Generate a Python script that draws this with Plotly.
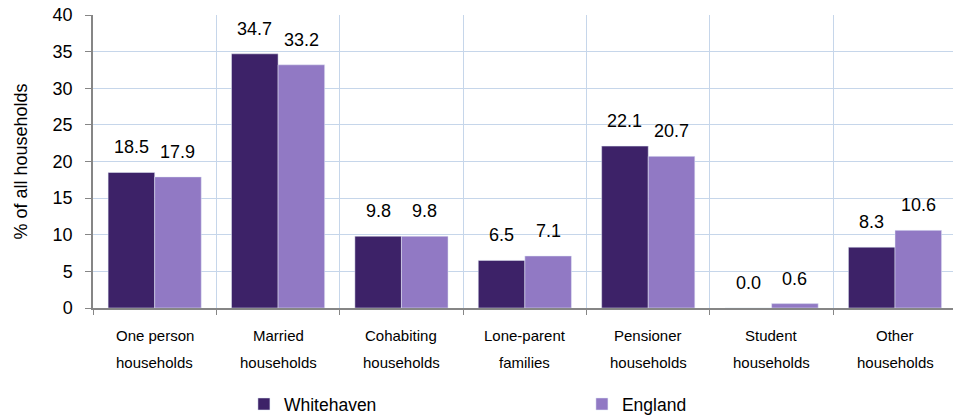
import plotly.graph_objects as go

categories = ["One person households", "Married households", "Cohabiting households",
              "Lone-parent families", "Pensioner households", "Student households",
              "Other households"]
label_line1 = ["One person", "Married", "Cohabiting", "Lone-parent", "Pensioner", "Student", "Other"]
label_line2 = ["households", "households", "households", "families", "households", "households", "households"]
whitehaven = [18.5, 34.7, 9.8, 6.5, 22.1, 0.0, 8.3]
england = [17.9, 33.2, 9.8, 7.1, 20.7, 0.6, 10.6]

dark = "#3D2268"
light = "#9179C4"
font = "Liberation Sans, Arial, sans-serif"

fig = go.Figure()
fig.add_trace(go.Bar(name="Whitehaven", x=categories, y=whitehaven, marker_color=dark))
fig.add_trace(go.Bar(name="England", x=categories, y=england, marker_color=light))

annotations = []
half_bar = 23.3
for c, a, b in zip(categories, whitehaven, england):
    annotations.append(dict(x=c, y=a, xref="x", yref="y", text=f"{a:.1f}", showarrow=False,
                            xshift=-half_bar, yshift=25, yanchor="middle",
                            font=dict(size=18, color="black", family=font)))
    annotations.append(dict(x=c, y=b, xref="x", yref="y", text=f"{b:.1f}", showarrow=False,
                            xshift=half_bar, yshift=25, yanchor="middle",
                            font=dict(size=18, color="black", family=font)))
for c, l1, l2 in zip(categories, label_line1, label_line2):
    annotations.append(dict(x=c, y=-0.095, xref="x", yref="paper", text=l1, showarrow=False,
                            font=dict(size=15, color="black", family=font), yanchor="middle"))
    annotations.append(dict(x=c, y=-0.187, xref="x", yref="paper", text=l2, showarrow=False,
                            font=dict(size=15, color="black", family=font), yanchor="middle"))

fig.update_layout(
    width=953, height=419,
    margin=dict(l=93, r=0, t=15, b=111, autoexpand=False),
    paper_bgcolor="white", plot_bgcolor="white",
    font=dict(family=font, color="black"),
    barmode="group", bargap=0.245, bargroupgap=0,
    showlegend=True,
    legend=dict(orientation="h", x=0.1755, xanchor="left", y=-0.328, yanchor="middle",
                font=dict(size=17.5), entrywidth=293, entrywidthmode="pixels",
                itemclick=False, bgcolor="rgba(0,0,0,0)"),
    annotations=annotations,
    xaxis=dict(range=[-0.5, 6.47], showticklabels=False, tickson="boundaries",
               ticks="outside", ticklen=5, tickcolor="#868686",
               showgrid=True, gridcolor="#C6D6EA", gridwidth=1,
               showline=True, linecolor="#868686", linewidth=1.5),
    yaxis=dict(range=[0, 40], dtick=5, ticks="outside", ticklen=6, tickcolor="#868686",
               showgrid=True, gridcolor="#C6D6EA", gridwidth=1,
               showline=True, linecolor="#868686", linewidth=1.5,
               tickfont=dict(size=18), zeroline=False, ticklabelstandoff=9,
               ticklabeloverflow="allow",
               title=dict(text="% of all households", font=dict(size=18), standoff=20)),
)

fig.write_html("out.html", config={"displayModeBar": False},
               post_script="document.body.style.margin='0';")
